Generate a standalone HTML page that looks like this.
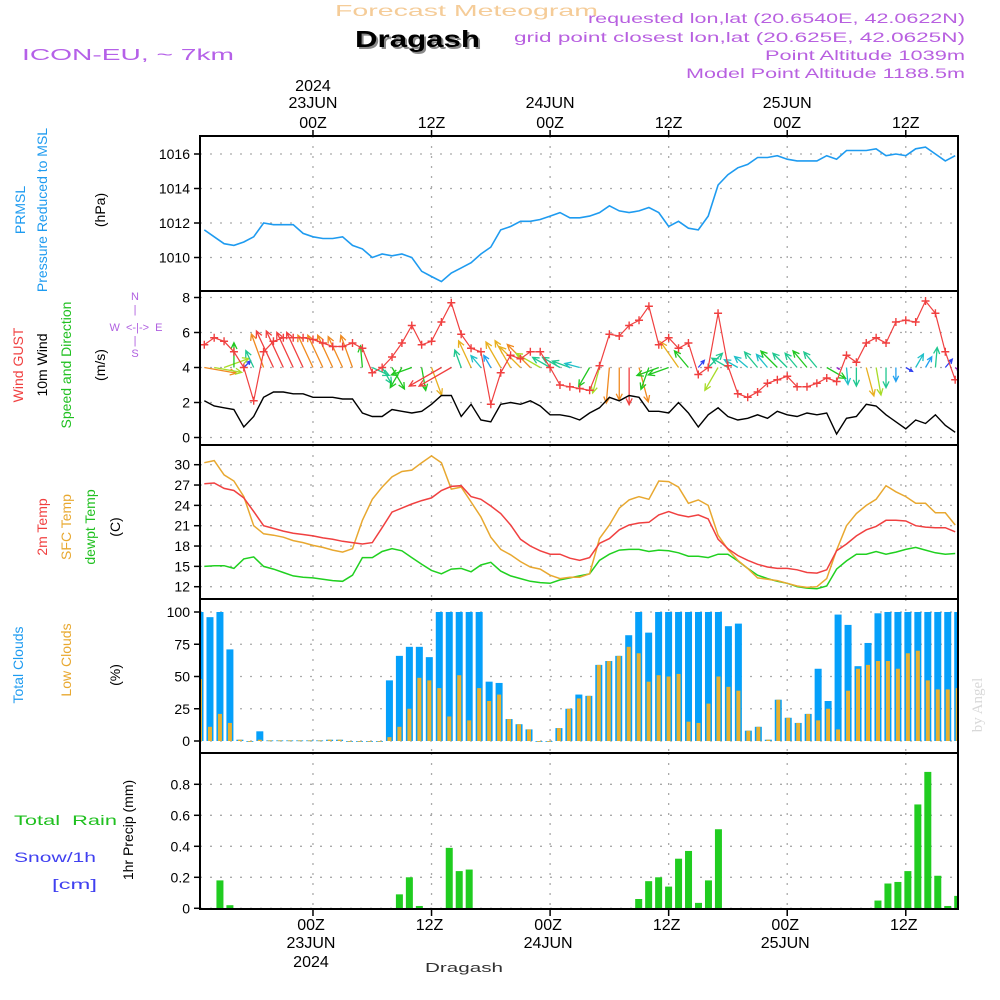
<!DOCTYPE html>
<html><head><meta charset="utf-8"><title>Meteogram Dragash</title>
<style>
html,body{margin:0;padding:0;background:#fff;}
svg{display:block;font-family:"Liberation Sans",sans-serif;}
</style></head>
<body>
<svg id="chart" width="1000" height="1000" viewBox="0 0 1000 1000" xmlns="http://www.w3.org/2000/svg">
<rect x="0" y="0" width="1000" height="1000" fill="#fff"/>
<text x="335" y="16" textLength="263" lengthAdjust="spacingAndGlyphs" font-size="16" fill="#f5cc98">Forecast Meteogram</text>
<text x="357" y="49" textLength="125" lengthAdjust="spacingAndGlyphs" font-size="23" font-weight="bold" fill="#8a8a8a">Dragash</text>
<text x="355" y="47" textLength="125" lengthAdjust="spacingAndGlyphs" font-size="23" font-weight="bold" fill="#000">Dragash</text>
<text x="22" y="60" textLength="212" lengthAdjust="spacingAndGlyphs" font-size="16" fill="#b560e8">ICON-EU, ~ 7km</text>
<g font-size="14" fill="#b860e0">
<text x="588" y="23" textLength="377" lengthAdjust="spacingAndGlyphs">requested lon,lat (20.6540E, 42.0622N)</text>
<text x="514" y="42" textLength="451" lengthAdjust="spacingAndGlyphs">grid point closest lon,lat (20.625E, 42.0625N)</text>
<text x="765" y="60" textLength="200" lengthAdjust="spacingAndGlyphs">Point Altitude 1039m</text>
<text x="686" y="78" textLength="279" lengthAdjust="spacingAndGlyphs">Model Point Altitude 1188.5m</text>
</g>
<g id="plots"></g>
<g font-size="14">
<text transform="translate(25,210) rotate(-90)" text-anchor="middle" fill="#1e9bf0">PRMSL</text>
<text transform="translate(47,210) rotate(-90)" text-anchor="middle" fill="#1e9bf0">Pressure Reduced to MSL</text>
<text transform="translate(105,210) rotate(-90)" text-anchor="middle" fill="#000">(hPa)</text>
<text transform="translate(23,365) rotate(-90)" text-anchor="middle" fill="#f04040">Wind GUST</text>
<text transform="translate(47,365) rotate(-90)" text-anchor="middle" fill="#000">10m Wind</text>
<text transform="translate(71,365) rotate(-90)" text-anchor="middle" fill="#20c020">Speed and Direction</text>
<text transform="translate(105,365) rotate(-90)" text-anchor="middle" fill="#000">(m/s)</text>
<text transform="translate(47,527) rotate(-90)" text-anchor="middle" fill="#f04040">2m Temp</text>
<text transform="translate(71,527) rotate(-90)" text-anchor="middle" fill="#e8a830">SFC Temp</text>
<text transform="translate(95,527) rotate(-90)" text-anchor="middle" fill="#20c020">dewpt Temp</text>
<text transform="translate(120,527) rotate(-90)" text-anchor="middle" fill="#000">(C)</text>
<text transform="translate(23,665) rotate(-90)" text-anchor="middle" fill="#1e9bf0">Total Clouds</text>
<text transform="translate(71,660) rotate(-90)" text-anchor="middle" fill="#e8a830">Low Clouds</text>
<text transform="translate(120,675) rotate(-90)" text-anchor="middle" fill="#000">(%)</text>
<text x="14" y="825" textLength="103" lengthAdjust="spacingAndGlyphs" fill="#20c020" xml:space="preserve">Total  Rain</text>
<text x="14" y="862" textLength="82" lengthAdjust="spacingAndGlyphs" fill="#4040f0">Snow/1h</text>
<text x="52" y="889" textLength="45" lengthAdjust="spacingAndGlyphs" fill="#4040f0">[cm]</text>
<text transform="translate(133,830) rotate(-90)" text-anchor="middle" fill="#000">1hr Precip (mm)</text>
</g>
<g font-size="11" fill="#b060e0" text-anchor="middle">
<text x="135" y="300">N</text>
<text x="135" y="313">|</text>
<text x="136" y="331" xml:space="preserve">W  &lt;-|-&gt;  E</text>
<text x="135" y="344">|</text>
<text x="135" y="357">S</text>
</g>
<text transform="translate(982,705) rotate(-90)" text-anchor="middle" font-size="15" font-family="Liberation Serif, serif" fill="#d8d8d8">by Angel</text>
<text x="425" y="972" textLength="78" lengthAdjust="spacingAndGlyphs" font-size="13" fill="#333">Dragash</text>
</svg>
<script>
// ---- data ----
var tickHours = [11, 23, 35, 47, 59, 71];
var topTickLabels = [["2024","23JUN","00Z"],["","","12Z"],["","24JUN","00Z"],["","","12Z"],["","25JUN","00Z"],["","","12Z"]];
var bottomTickLabels = [["00Z","23JUN","2024"],["12Z","",""],["00Z","24JUN",""],["12Z","",""],["00Z","25JUN",""],["12Z","",""]];
var pressureTicks = [1010, 1012, 1014, 1016];
var windTicks = [0, 2, 4, 6, 8];
var tempTicks = [12, 15, 18, 21, 24, 27, 30];
var cloudTicks = [0, 25, 50, 75, 100];
var precipTicks = [0, 0.2, 0.4, 0.6, 0.8];
var precipTickLabels = ["0", "0.2", "0.4", "0.6", "0.8"];

var pressure = [1011.6,1011.2,1010.8,1010.7,1010.9,1011.2,1012.0,1011.9,1011.9,1011.9,1011.4,1011.2,1011.1,1011.1,1011.2,1010.7,1010.5,1010.0,1010.2,1010.1,1010.2,1010.0,1009.2,1008.9,1008.6,1009.1,1009.4,1009.7,1010.2,1010.6,1011.6,1011.8,1012.1,1012.1,1012.2,1012.4,1012.6,1012.3,1012.3,1012.4,1012.6,1013.0,1012.7,1012.6,1012.7,1012.9,1012.6,1011.8,1012.1,1011.7,1011.6,1012.4,1014.2,1014.8,1015.2,1015.4,1015.8,1015.8,1015.9,1015.7,1015.6,1015.6,1015.6,1015.9,1015.7,1016.2,1016.2,1016.2,1016.3,1015.9,1016.0,1015.9,1016.3,1016.4,1016.0,1015.6,1015.9];

var gust = [5.3,5.7,5.5,4.9,4.0,2.1,4.9,5.5,5.7,5.7,5.7,5.6,5.4,5.2,5.2,5.4,5.1,3.7,4.0,4.6,5.4,6.4,5.3,5.5,6.6,7.7,5.9,5.1,4.9,1.9,3.7,4.7,4.5,4.9,4.9,4.0,3.0,2.9,2.8,2.7,4.1,5.9,5.8,6.4,6.7,7.5,5.3,5.7,5.1,5.4,3.6,4.0,7.1,4.1,2.5,2.3,2.6,3.1,3.3,3.5,2.9,2.9,3.1,3.4,3.2,4.7,4.3,5.4,5.7,5.4,6.6,6.7,6.6,7.8,7.1,4.9,3.3];
var windSpeed = [2.1,1.8,1.7,1.6,0.6,1.2,2.3,2.6,2.6,2.5,2.5,2.3,2.3,2.3,2.2,2.2,1.4,1.2,1.2,1.6,1.5,1.4,1.5,1.9,2.4,2.4,1.2,1.9,1.0,0.9,1.9,2.0,1.9,2.1,1.8,1.3,1.3,1.2,1.0,1.4,1.7,2.3,2.1,2.4,2.3,1.5,1.5,1.4,2.0,1.4,0.6,1.3,1.7,1.2,1.0,1.1,1.3,1.1,1.5,1.3,1.2,1.4,1.3,1.4,0.2,1.1,1.2,1.9,1.8,1.3,0.9,0.5,1.0,0.8,1.3,0.7,0.3];
var windHeading = [100,100,70,0,45,335,340,335,335,335,335,335,335,335,335,340,355,115,150,150,210,250,170,160,240,240,340,335,320,330,330,330,315,315,300,300,300,290,285,210,195,185,180,180,165,200,250,250,325,320,40,45,210,300,300,310,320,320,315,315,320,320,320,120,120,175,180,165,170,180,180,120,30,30,5,40,130];

var temp2m = [27.2,27.3,26.5,26.2,25.1,23.1,21.0,20.6,20.2,19.9,19.7,19.5,19.2,19.0,18.7,18.5,18.3,18.5,20.7,23.0,23.6,24.2,24.7,25.1,26.2,26.8,26.9,25.3,24.9,23.9,22.8,21.1,19.0,18.0,17.3,16.8,16.8,16.2,15.9,16.3,18.4,19.1,20.4,21.1,21.4,21.5,22.6,23.1,22.6,22.3,22.6,22.0,19.0,17.6,16.6,15.9,15.3,14.9,14.7,14.7,14.5,14.1,14.0,14.5,17.3,18.3,19.5,20.4,20.9,21.8,21.8,21.7,21.0,20.8,20.7,20.7,20.1];
var tempSfc = [30.3,30.6,28.5,27.6,25.3,21.0,19.8,19.6,19.3,18.8,18.5,18.1,17.8,17.4,17.1,17.6,21.8,24.9,26.7,28.2,29.0,29.2,30.3,31.3,30.3,26.4,26.7,24.5,22.3,19.3,17.5,16.7,15.7,14.9,14.6,13.7,13.2,13.4,13.4,13.9,19.1,21.1,23.6,24.8,25.3,24.9,27.6,27.5,26.7,24.3,24.8,24.0,19.6,17.5,15.9,14.7,13.3,13.1,12.9,12.5,12.1,11.9,12.0,13.2,17.4,21.0,22.8,24.0,24.9,26.9,26.0,25.3,24.3,24.3,22.9,22.9,21.1];
var dewpoint = [15.0,15.1,15.1,14.7,16.1,16.4,15.0,14.6,14.1,13.6,13.4,13.3,13.1,12.9,12.8,13.7,16.3,16.3,17.2,17.6,17.3,16.3,15.3,14.4,13.9,14.6,14.7,14.2,15.2,15.6,14.3,13.6,13.2,12.8,12.6,12.5,13.0,13.3,13.6,13.9,15.9,16.8,17.4,17.5,17.5,17.2,17.4,17.3,17.0,16.5,16.5,16.3,16.8,16.8,15.8,14.7,13.7,13.2,12.8,12.5,12.0,11.8,11.7,12.1,14.6,15.8,16.8,16.8,17.2,16.8,17.1,17.5,17.8,17.4,17.0,16.8,16.9];

var totalClouds = [100,96,100,71,1,0,7.5,0.5,0.5,0.5,0.5,0.5,0.5,1,1,0,0,0,0,47,66,73,73,65,100,100,100,100,100,46,45,17,13,9,0,0,10,25,36,35,59,62,66,82,100,84,100,100,100,100,100,100,100,89,91,8,11,1,32,18,14,21,56,31,98,90,58,76,99,100,100,100,100,100,100,100,100];
var lowClouds = [48,11,21,14,1,0,1,0.5,0.5,0.5,0.5,0.5,0.5,1,1,0,0,0,0,3,11,25,49,47,41,19,51,16,41,31,36,17,13,9,0,0,10,25,33,35,59,62,66,73,68,46,51,50,52,15,14,29,50,42,39,8,11,1,32,18,14,21,16,25,9,39,56,59,62,62,56,68,70,47,40,40,41];
var precip = [0,0,0.18,0.02,0,0,0,0,0,0,0,0,0,0,0,0,0,0,0,0,0.09,0.2,0.015,0,0,0.39,0.24,0.25,0,0,0,0,0,0,0,0,0,0,0,0,0,0,0,0,0.06,0.175,0.2,0.14,0.32,0.37,0.035,0.18,0.51,0,0,0,0,0,0,0,0,0,0,0,0,0,0,0,0.05,0.16,0.17,0.24,0.67,0.88,0.21,0.015,0.08];

// ---- layout ----
var X0 = 200, X1 = 958;
var panels = {
  p1: {top: 136, bot: 291, ticks: pressureTicks, labels: null, name: 'pressure-panel'},
  p2: {top: 291, bot: 445, ticks: windTicks, labels: null, name: 'wind-panel'},
  p3: {top: 445, bot: 599, ticks: tempTicks, labels: null, name: 'temperature-panel'},
  p4: {top: 599, bot: 753, ticks: cloudTicks, labels: null, name: 'clouds-panel'},
  p5: {top: 753, bot: 909, ticks: precipTicks, labels: precipTickLabels, name: 'precip-panel'}
};
function yP1(v){ return 154 + (1016 - v) * 17.25; }
function yP2(v){ return 437.5 - v * 17.5; }
function yP3(v){ return 464.7 + (30 - v) * 6.778; }
function yP4(v){ return 741 - v * 1.29; }
function yP5(v){ return 908.3 - v * 155; }
var yFns = {p1: yP1, p2: yP2, p3: yP3, p4: yP4, p5: yP5};
function xH(h){ return 204.3 + 9.88 * h; }
function xBar(i){ return 200 + 9.97 * i; }

var NS = 'http://www.w3.org/2000/svg';
var root = document.getElementById('plots');
function mk(tag, attrs, parent){
  var e = document.createElementNS(NS, tag);
  for (var k in attrs) e.setAttribute(k, attrs[k]);
  (parent || root).appendChild(e);
  return e;
}

var defs = mk('defs', {});
var cp = mk('clipPath', {id: 'plotclip'}, defs);
mk('rect', {x: X0, y: 130, width: X1 - X0, height: 785}, cp);

var keys = ['p1','p2','p3','p4','p5'];
keys.forEach(function(k){
  var p = panels[k], yf = yFns[k];
  var g = mk('g', {});
  
  
  tickHours.forEach(function(h){
    var l = mk('line', {x1: xH(h), x2: xH(h), y1: p.top, y2: p.bot, stroke: '#aaa', 'stroke-width': 1.3, 'stroke-dasharray': '2,8'}, g);
    
    
  });
  p.ticks.forEach(function(t, ti){
    var y = yf(t);
    var l = mk('line', {x1: X0, x2: X1, y1: y, y2: y, stroke: '#aaa', 'stroke-width': 1.3, 'stroke-dasharray': '2,8'}, g);
    
    
    var tk = mk('line', {x1: X0 - 6, x2: X0, y1: y, y2: y, stroke: '#000', 'stroke-width': 1.5}, g);
    
    
    var tx = mk('text', {x: X0 - 10, y: y + 5, 'text-anchor': 'end', 'font-size': 14, fill: '#000'}, g);
    
    
    tx.textContent = p.labels ? p.labels[ti] : String(t);
  });
});

// pressure
var pPts = pressure.map(function(v, j){ return xH(j).toFixed(1) + ',' + yP1(v).toFixed(1); }).join(' ');
var pl = mk('polyline', {points: pPts, fill: 'none', stroke: '#1e9bf0', 'stroke-width': 1.6, 'clip-path': 'url(#plotclip)'});



// wind arrows
function windColor(s){
  if (s >= 2.35) return '#f04040';
  if (s >= 2.05) return '#f08a20';
  if (s >= 1.85) return '#e8b020';
  if (s >= 1.65) return '#a8dc28';
  if (s >= 1.35) return '#20c820';
  if (s >= 1.15) return '#20c890';
  if (s >= 0.95) return '#20c0c8';
  if (s >= 0.75) return '#20a0f0';
  if (s >= 0.45) return '#3040f0';
  return '#9020c0';
}
var ag = mk('g', {'clip-path': 'url(#plotclip)'});


windHeading.forEach(function(hd, j){
  var s = windSpeed[j], L = s * 15.5, a = hd * Math.PI / 180;
  var x1 = xH(j), y1 = yP2(4);
  var x2 = x1 + L * Math.sin(a), y2 = y1 - L * Math.cos(a);
  var c = windColor(s);
  var hl = Math.min(7, L * 0.45), ha = 0.45;
  var b1x = x2 - hl * Math.sin(a - ha), b1y = y2 + hl * Math.cos(a - ha);
  var b2x = x2 - hl * Math.sin(a + ha), b2y = y2 + hl * Math.cos(a + ha);
  var ar = mk('path', {d: 'M' + x1 + ',' + y1 + 'L' + x2 + ',' + y2 + 'M' + b1x + ',' + b1y + 'L' + x2 + ',' + y2 + 'L' + b2x + ',' + b2y, stroke: c, 'stroke-width': 1.3, fill: 'none'}, ag);
  
  
});

// wind speed
var wPts = windSpeed.map(function(v, j){ return xH(j).toFixed(1) + ',' + yP2(v).toFixed(1); }).join(' ');
var wl = mk('polyline', {points: wPts, fill: 'none', stroke: '#000', 'stroke-width': 1.4, 'clip-path': 'url(#plotclip)'});



// gust
var gPts = gust.map(function(v, j){ return xH(j).toFixed(1) + ',' + yP2(v).toFixed(1); }).join(' ');
var gl = mk('polyline', {points: gPts, fill: 'none', stroke: '#f04040', 'stroke-width': 1.2, 'clip-path': 'url(#plotclip)'});


var gm = mk('g', {stroke: '#f04040', 'stroke-width': 1.4, 'clip-path': 'url(#plotclip)'});


gust.forEach(function(v, j){
  var x = xH(j), y = yP2(v);
  var m = mk('path', {d: 'M' + (x - 4) + ',' + y + 'H' + (x + 4) + 'M' + x + ',' + (y - 4) + 'V' + (y + 4)}, gm);
  
  
});

// temperatures
function tline(arr, color, name){
  var pts = arr.map(function(v, j){ return xH(j).toFixed(1) + ',' + yP3(v).toFixed(1); }).join(' ');
  var l = mk('polyline', {points: pts, fill: 'none', stroke: color, 'stroke-width': 1.5, 'clip-path': 'url(#plotclip)'});
  
  
}
tline(dewpoint, '#20d020', 'dewpoint-line');
tline(tempSfc, '#e8a830', 'sfc-temp-line');
tline(temp2m, '#f04040', 'temp-2m-line');

// clouds
var cg = mk('g', {'clip-path': 'url(#plotclip)'});


totalClouds.forEach(function(v, i){
  var x = xBar(i), y = yP4(v), y0 = yP4(0);
  var b = mk('rect', {x: x - 3.5, y: y, width: 7, height: Math.max(0.8, y0 - y), fill: '#05a0fa'}, cg);
  
  
  var yl = yP4(lowClouds[i]);
  var b2 = mk('rect', {x: x - 2, y: yl, width: 4, height: Math.max(0.8, y0 - yl), fill: '#e8b030'}, cg);
  
  
});

// precip
var rg = mk('g', {'clip-path': 'url(#plotclip)'});


precip.forEach(function(v, i){
  if (v <= 0) return;
  var x = xBar(i), y = yP5(v), y0 = yP5(0);
  var b = mk('rect', {x: x - 3.5, y: y, width: 7, height: y0 - y, fill: '#20cc20'}, rg);
  
  
});

// frames
keys.forEach(function(k){
  var p = panels[k];
  var f = mk('rect', {x: X0, y: p.top, width: X1 - X0, height: p.bot - p.top, fill: 'none', stroke: '#000', 'stroke-width': 2});
  
  
});

// time axes
tickHours.forEach(function(h, ti){
  var x = xH(h);
  var t1 = mk('line', {x1: x, x2: x, y1: 130, y2: 137, stroke: '#000', 'stroke-width': 1.5});
  
  
  var t2 = mk('line', {x1: x, x2: x, y1: 909, y2: 916, stroke: '#000', 'stroke-width': 1.5});
  
  
  var top = topTickLabels[ti], rows = [91, 108, 128];
  top.forEach(function(s, r){
    if (!s) return;
    var t = mk('text', {x: x, y: rows[r], 'text-anchor': 'middle', 'font-size': 16, fill: '#000'});
    
    
    t.textContent = s;
  });
  var bot = bottomTickLabels[ti], brows = [930, 948, 967];
  bot.forEach(function(s, r){
    if (!s) return;
    var t = mk('text', {x: x - 2, y: brows[r], 'text-anchor': 'middle', 'font-size': 16, fill: '#000'});
    
    
    t.textContent = s;
  });
});
</script>
</body></html>
